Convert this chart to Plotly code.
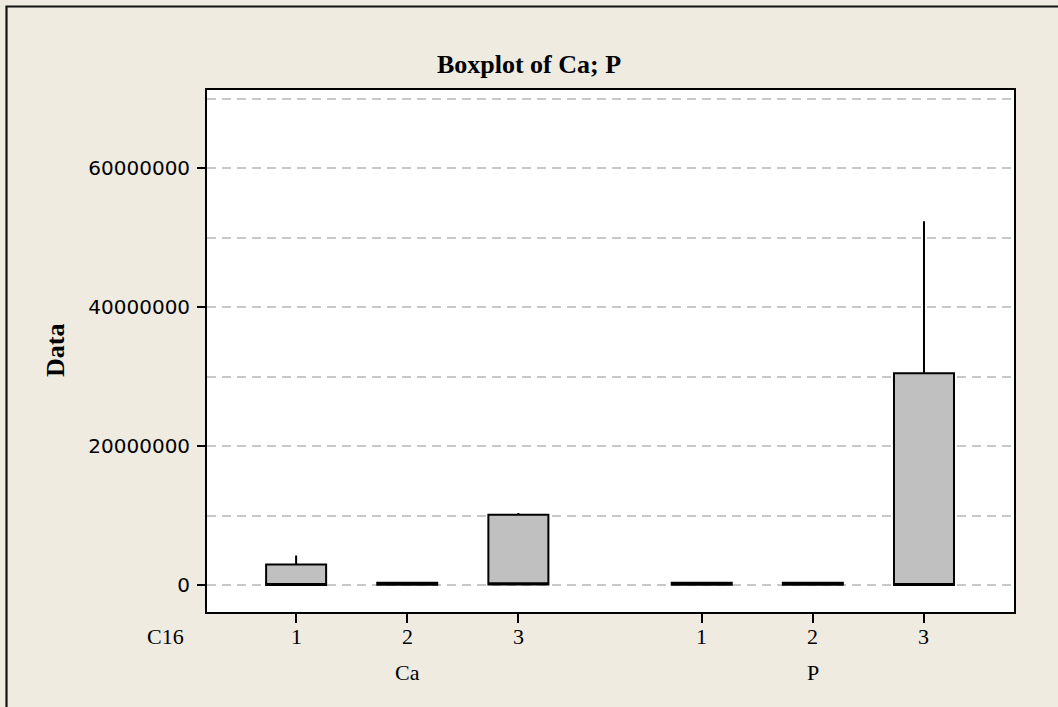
import plotly.graph_objects as go

# ---- data ----
groups = ["Ca", "Ca", "Ca", "P", "P", "P"]
levels = ["1", "2", "3", "1", "2", "3"]
positions = [1, 2, 3, 4.65, 5.65, 6.65]
q1 = [0, 20000, 50000, 20000, 20000, 0]
median = [20000, 150000, 250000, 150000, 150000, 50000]
q3 = [2950000, 320000, 10100000, 320000, 320000, 30500000]
lowerfence = [0, 0, 0, 0, 0, 0]
upperfence = [4250000, 450000, 10350000, 330000, 330000, 52400000]
group_names = ["Ca", "P"]
group_centers = [2, 5.65]
y_ticks = [0, 20000000, 40000000, 60000000]
y_ticktext = ["0", "20000000", "40000000", "60000000"]

BG = "#EFEBE1"
GRID = "#C8C8C8"
SERIF = "Liberation Serif"

fig = go.Figure()
fig.add_trace(go.Box(
    x=positions, q1=q1, median=median, q3=q3,
    lowerfence=lowerfence, upperfence=upperfence,
    boxpoints=False, width=0.54, whiskerwidth=0,
    fillcolor="#C0C0C0", line=dict(color="black", width=2),
    showlegend=False, hoverinfo="skip",
))

fig.update_layout(
    width=1058, height=707,
    paper_bgcolor=BG, plot_bgcolor="white",
    margin=dict(l=207, r=44, t=90, b=95),
    title=dict(text="<b>Boxplot of Ca; P</b>", x=0.5, xref="container",
               y=1 - 64 / 707, yref="container", yanchor="middle", xanchor="center",
               font=dict(family=SERIF, size=26, color="black")),
    showlegend=False,
)

fig.update_xaxes(
    range=[0.198, 7.46], tickmode="array", tickvals=positions, ticktext=levels,
    showticklabels=False,
    ticks="outside", ticklen=9, tickwidth=1.5, tickcolor="black",
    showline=True, linecolor="black", linewidth=1.8, mirror=True,
    showgrid=False, zeroline=False,
)
fig.update_yaxes(
    range=[-3900000, 71300000], tickmode="array", tickvals=y_ticks, ticktext=y_ticktext,
    ticks="outside", ticklen=8, tickwidth=1.5, tickcolor="black",
    showline=True, linecolor="black", linewidth=1.8, mirror=True,
    showgrid=True, gridcolor=GRID, gridwidth=1.5, griddash="9px,6px",
    zeroline=False, ticklabelstandoff=3,
    tickfont=dict(family="DejaVu Sans", size=20, color="black"),
    minor=dict(tickmode="linear", tick0=0, dtick=10000000, showgrid=True,
               gridcolor=GRID, gridwidth=1.5, griddash="9px,6px", ticks=""),
)

label_y = -(636 - 612) / 522
annotations = [
    dict(text="<b>Data</b>", xref="paper", yref="paper", x=(55 - 207) / 807, y=0.5,
         textangle=-90, showarrow=False, xanchor="center", yanchor="middle",
         font=dict(family=SERIF, size=26, color="black")),
    dict(text="C16", xref="paper", yref="paper", x=(165 - 207) / 807,
         y=label_y, showarrow=False, xanchor="center", yanchor="middle",
         font=dict(family=SERIF, size=22, color="black")),
]
for lv, px in zip(levels, positions):
    annotations.append(dict(text=lv, xref="x", yref="paper", x=px, y=label_y,
                            showarrow=False, xanchor="center", yanchor="middle",
                            font=dict(family=SERIF, size=22, color="black")))
for name, cx in zip(group_names, group_centers):
    annotations.append(dict(text=name, xref="x", yref="paper", x=cx,
                            y=-(672 - 612) / 522, showarrow=False,
                            xanchor="center", yanchor="middle",
                            font=dict(family=SERIF, size=22, color="black")))
fig.update_layout(annotations=annotations)

# outer frame (extends beyond the visible crop on the right/bottom)
fig.add_shape(type="rect", xref="paper", yref="paper",
              x0=(6.5 - 207) / 807, x1=(1075 - 207) / 807,
              y0=-(725 - 612) / 522, y1=(612 - 6.5) / 522,
              line=dict(color="#141414", width=2.2), fillcolor="rgba(0,0,0,0)",
              layer="below")

fig.write_html("out.html")
